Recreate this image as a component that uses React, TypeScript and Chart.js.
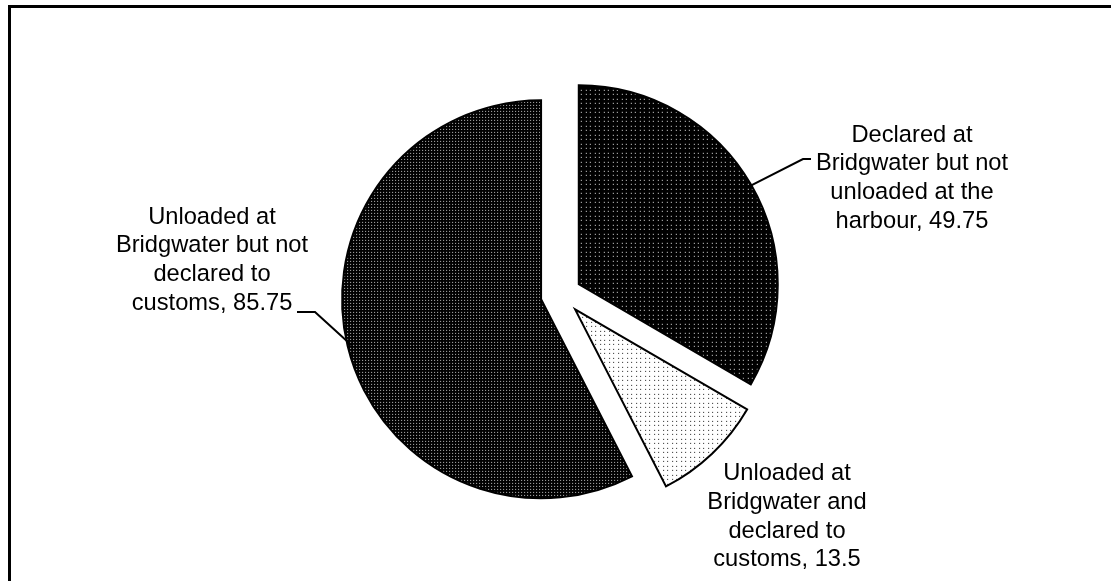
import React, { useEffect, useRef } from 'react';
import { Chart, registerables } from 'chart.js';

Chart.register(...registerables);

// ---------- data ----------
const categories = [
  'Declared at Bridgwater but not unloaded at the harbour',
  'Unloaded at Bridgwater and declared to customs',
  'Unloaded at Bridgwater but not declared to customs',
];
const values = [49.75, 13.5, 85.75];
const labelLines = [
  ['Declared at', 'Bridgwater but not', 'unloaded at the', 'harbour'],
  ['Unloaded at', 'Bridgwater and', 'declared to', 'customs'],
  ['Unloaded at', 'Bridgwater but not', 'declared to', 'customs'],
];

// ---------- layout / style ----------
const PIE_RADIUS = 199;
const EXPLODE = 20.5;
const FONT_SIZE = 23.7;
const LINE_H = 28.8;
// label text centre / first baseline, relative to pie centre; leader elbow & end
const labelLayout: { dx: number; dy: number; leader?: [number, number, number] }[] = [
  { dx: 351, dy: -153, leader: [242, -135.5, 250] },
  { dx: 226, dy: 185.5 },
  { dx: -349, dy: -71, leader: [-246, 17.5, -264] },
];

function makePattern(bg: string, fg: string, size: number, dots: [number, number][]) {
  const c = document.createElement('canvas');
  c.width = size;
  c.height = size;
  const g = c.getContext('2d')!;
  g.fillStyle = bg;
  g.fillRect(0, 0, size, size);
  g.fillStyle = fg;
  dots.forEach(([x, y]) => g.fillRect(x, y, 1, 1));
  const ctx = document.createElement('canvas').getContext('2d')!;
  return ctx.createPattern(c, 'repeat')!;
}

const framePlugin = {
  id: 'frame',
  beforeDraw(chart: any) {
    const ctx = chart.ctx;
    ctx.save();
    ctx.fillStyle = '#fff';
    ctx.fillRect(0, 0, chart.width, chart.height);
    ctx.strokeStyle = '#000';
    ctx.lineWidth = 3;
    ctx.strokeRect(9.5, 6.5, 3000, 3000);
    ctx.restore();
  },
};

const explodePlugin = {
  id: 'explode',
  beforeDatasetDraw(chart: any, args: any) {
    const ctx = chart.ctx;
    args.meta.data.forEach((el: any) => {
      const mid = (el.startAngle + el.endAngle) / 2;
      ctx.save();
      ctx.translate(Math.cos(mid) * EXPLODE, Math.sin(mid) * EXPLODE);
      el.draw(ctx);
      ctx.restore();
    });
    return false;
  },
};

const labelPlugin = {
  id: 'sliceLabels',
  afterDatasetsDraw(chart: any) {
    const ctx = chart.ctx;
    const meta = chart.getDatasetMeta(0);
    meta.data.forEach((el: any, i: number) => {
      const cx = el.x;
      const cy = el.y;
      const L = labelLayout[i];
      ctx.save();
      if (L.leader) {
        const mid = (el.startAngle + el.endAngle) / 2;
        const r = el.outerRadius + EXPLODE - 4;
        ctx.beginPath();
        ctx.moveTo(cx + Math.cos(mid) * r, cy + Math.sin(mid) * r);
        ctx.lineTo(cx + L.leader[0], cy + L.leader[1]);
        ctx.lineTo(cx + L.leader[2], cy + L.leader[1]);
        ctx.strokeStyle = '#000';
        ctx.lineWidth = 2;
        ctx.stroke();
      }
      ctx.font = `${FONT_SIZE}px "Liberation Sans", Arial, sans-serif`;
      ctx.fillStyle = '#000';
      ctx.textAlign = 'center';
      ctx.textBaseline = 'alphabetic';
      const lines = labelLines[i].slice();
      lines[lines.length - 1] = `${lines[lines.length - 1]}, ${values[i]}`;
      lines.forEach((t, j) => ctx.fillText(t, cx + L.dx, cy + L.dy + j * LINE_H));
      ctx.restore();
    });
  },
};

export default function App() {
  const ref = useRef<HTMLCanvasElement>(null);
  useEffect(() => {
    const canvas = ref.current!;
    const patterns = [
      makePattern('#000', '#e8e8e8', 9, [[1, 1], [5, 1], [1, 5], [5, 5]]),
      makePattern('#fff', '#222', 9, [[1, 1], [5, 1], [1, 5], [5, 5]]),
      makePattern('#000', '#c4c4c4', 3, [[1, 1]]),
    ];
    const chart = new Chart(canvas, {
      type: 'pie',
      data: {
        labels: categories,
        datasets: [
          {
            data: values,
            backgroundColor: patterns as any,
            borderColor: '#000',
            borderWidth: 2,
            borderJoinStyle: 'miter',
            radius: PIE_RADIUS,
          } as any,
        ],
      },
      options: {
        responsive: false,
        animation: false,
        events: [],
        layout: { padding: { left: 11, top: 8, right: 0, bottom: 0 } },
        plugins: { legend: { display: false }, tooltip: { enabled: false } },
      } as any,
      plugins: [framePlugin, explodePlugin, labelPlugin],
    });
    return () => chart.destroy();
  }, []);
  return (
    <canvas
      ref={ref}
      width={1111}
      height={581}
      style={{ position: 'fixed', left: 0, top: 0, display: 'block', width: 1111, height: 581 }}
    />
  );
}
